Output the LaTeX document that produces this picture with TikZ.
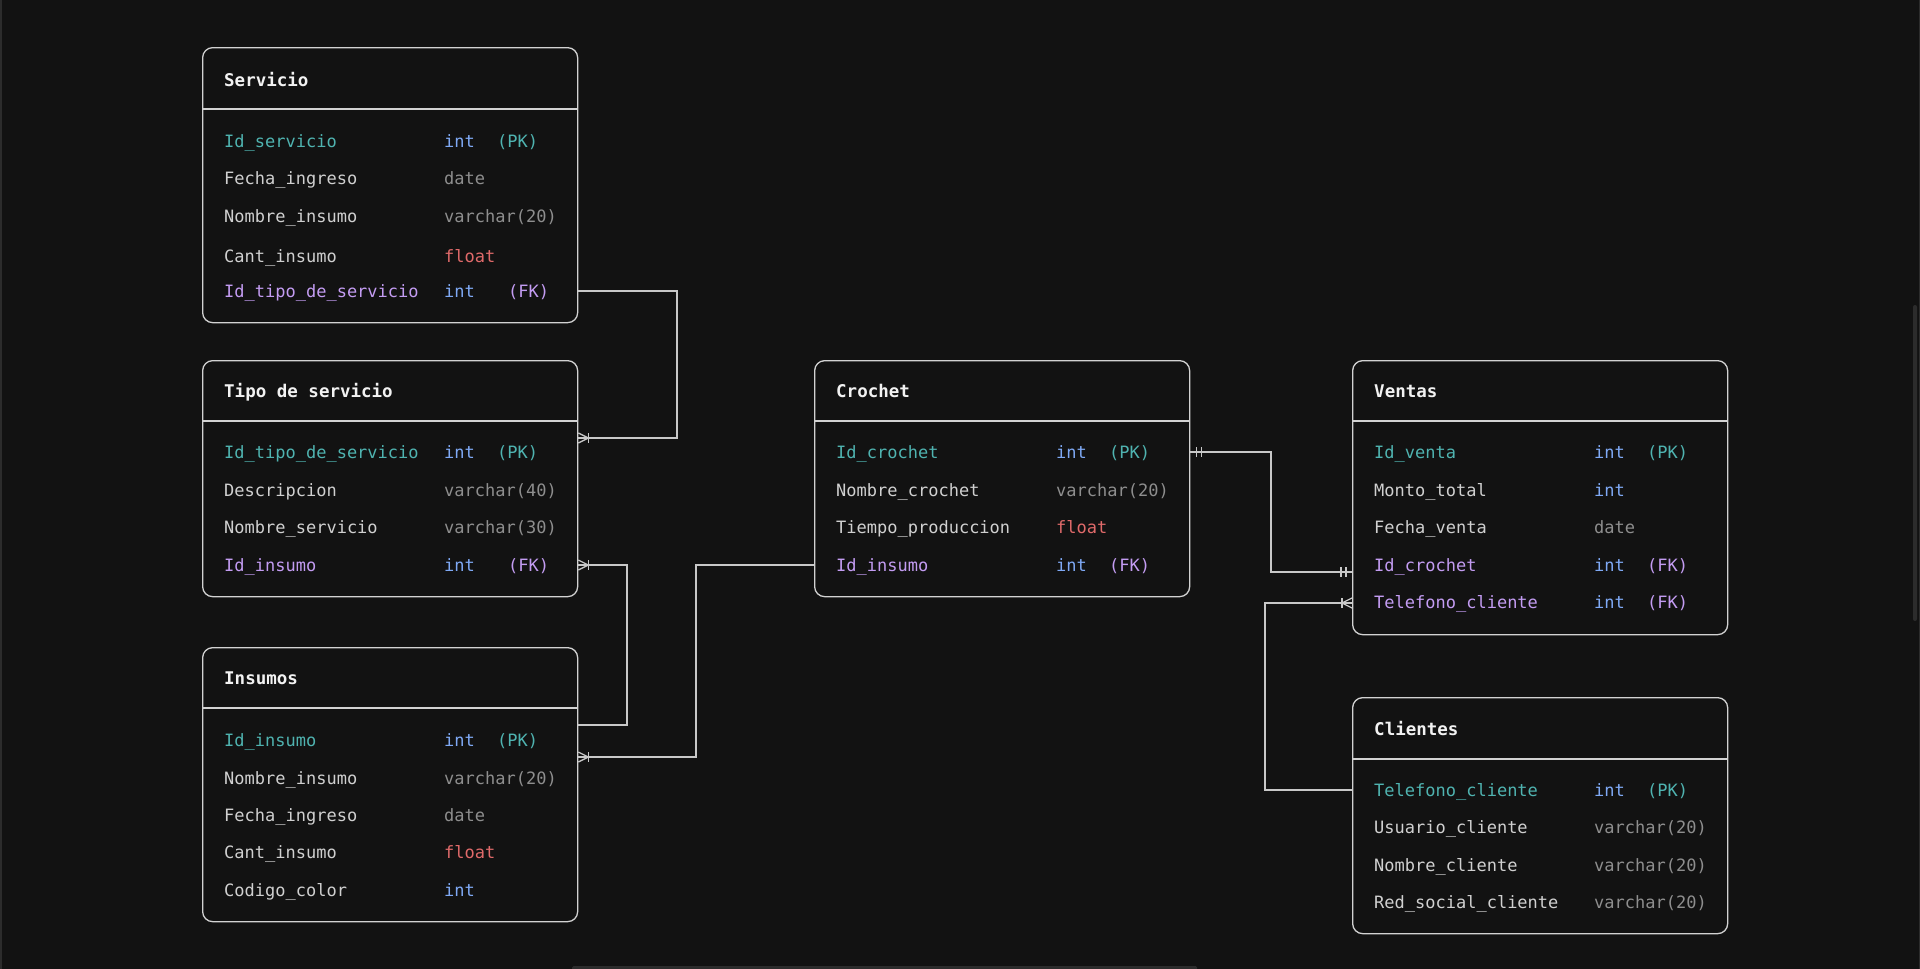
\documentclass[tikz,border=0pt]{standalone}
\usepackage{fontspec}
\setmonofont{DejaVu Sans Mono}
\definecolor{bg}{HTML}{121212}
\definecolor{edge}{HTML}{D2D2D2}
\definecolor{linec}{HTML}{C8C8C8}
\definecolor{titlec}{HTML}{F2F2F2}
\definecolor{txtc}{HTML}{D0D0D0}
\definecolor{pkc}{HTML}{4FB3B0}
\definecolor{fkc}{HTML}{C39CF2}
\definecolor{intc}{HTML}{7FA9F5}
\definecolor{grayc}{HTML}{8E8E8E}
\definecolor{floatc}{HTML}{E06A6A}
\definecolor{sbar}{HTML}{2C2C2C}
\begin{document}
\begin{tikzpicture}[x=1pt, y=-1pt,
  tbl/.style={draw=edge, line width=1.3pt, rounded corners=10pt, fill=bg,
    anchor=north west, inner sep=0, minimum width=375pt},
  sepline/.style={draw=edge, line width=1.3pt},
  ttl/.style={anchor=west, inner sep=0, text height=16pt, text depth=4pt,
    font=\ttfamily\bfseries\fontsize{17.5}{20}\selectfont, text=titlec},
  fld/.style={anchor=west, inner sep=0, text height=16pt, text depth=4pt,
    font=\ttfamily\fontsize{17}{20}\selectfont, text=txtc},
  pk/.style={fld, text=pkc}, fk/.style={fld, text=fkc},
  ity/.style={fld, text=intc}, gty/.style={fld, text=grayc}, fty/.style={fld, text=floatc},
  conn/.style={draw=linec, line width=1.3pt},
  many/.pic={\draw[conn] (0,-5) -- (10,0) -- (0,5); \draw[conn] (10,-5) -- (10,5);},
  one/.pic={\draw[conn] (6,-5) -- (6,5); \draw[conn] (11,-5) -- (11,5);}
]
% canvas
\useasboundingbox (0,0) rectangle (1920,969);
\fill[bg] (0,0) rectangle (1920,969);
\fill[sbar] (0,0) rectangle (1.5,969);
\fill[sbar] (1918.5,0) rectangle (1920,969);
\fill[sbar, rounded corners=2pt] (1913,305) rectangle (1917,621);
\fill[sbar, rounded corners=1.5pt] (572,966) rectangle (1197,972);

% ---------- Servicio ----------
\node[tbl, minimum height=275pt] (serv) at (202,47) {};
\draw[sepline] ([yshift=-62pt]serv.north west) -- ([yshift=-62pt]serv.north east);
\node[ttl] (servT) at (224,80) {Servicio};
\node[pk]  (sv1)  at (224,141) {Id\_servicio};
\node[ity] (sv1t) at (444,141) {int};
\node[pk]  (sv1k) at (497,141) {(PK)};
\node[fld] (sv2)  at (224,178) {Fecha\_ingreso};
\node[gty] (sv2t) at (444,178) {date};
\node[fld] (sv3)  at (224,216) {Nombre\_insumo};
\node[gty] (sv3t) at (444,216) {varchar(20)};
\node[fld] (sv4)  at (224,256) {Cant\_insumo};
\node[fty] (sv4t) at (444,256) {float};
\node[fk]  (sv5)  at (224,291) {Id\_tipo\_de\_servicio};
\node[ity] (sv5t) at (444,291) {int};
\node[fk]  (sv5k) at (508,291) {(FK)};

% ---------- Tipo de servicio ----------
\node[tbl, minimum height=236pt] (tipo) at (202,360) {};
\draw[sepline] ([yshift=-61pt]tipo.north west) -- ([yshift=-61pt]tipo.north east);
\node[ttl] (tipoT) at (224,391) {Tipo de servicio};
\node[pk]  (tp1)  at (224,452) {Id\_tipo\_de\_servicio};
\node[ity] (tp1t) at (444,452) {int};
\node[pk]  (tp1k) at (497,452) {(PK)};
\node[fld] (tp2)  at (224,490) {Descripcion};
\node[gty] (tp2t) at (444,490) {varchar(40)};
\node[fld] (tp3)  at (224,527) {Nombre\_servicio};
\node[gty] (tp3t) at (444,527) {varchar(30)};
\node[fk]  (tp4)  at (224,565) {Id\_insumo};
\node[ity] (tp4t) at (444,565) {int};
\node[fk]  (tp4k) at (508,565) {(FK)};

% ---------- Insumos ----------
\node[tbl, minimum height=274pt] (ins) at (202,647) {};
\draw[sepline] ([yshift=-61pt]ins.north west) -- ([yshift=-61pt]ins.north east);
\node[ttl] (insT) at (224,678) {Insumos};
\node[pk]  (in1)  at (224,740) {Id\_insumo};
\node[ity] (in1t) at (444,740) {int};
\node[pk]  (in1k) at (497,740) {(PK)};
\node[fld] (in2)  at (224,778) {Nombre\_insumo};
\node[gty] (in2t) at (444,778) {varchar(20)};
\node[fld] (in3)  at (224,815) {Fecha\_ingreso};
\node[gty] (in3t) at (444,815) {date};
\node[fld] (in4)  at (224,852) {Cant\_insumo};
\node[fty] (in4t) at (444,852) {float};
\node[fld] (in5)  at (224,890) {Codigo\_color};
\node[ity] (in5t) at (444,890) {int};

% ---------- Crochet ----------
\node[tbl, minimum height=236pt] (cro) at (814,360) {};
\draw[sepline] ([yshift=-61pt]cro.north west) -- ([yshift=-61pt]cro.north east);
\node[ttl] (croT) at (836,391) {Crochet};
\node[pk]  (cr1)  at (836,452) {Id\_crochet};
\node[ity] (cr1t) at (1056,452) {int};
\node[pk]  (cr1k) at (1109,452) {(PK)};
\node[fld] (cr2)  at (836,490) {Nombre\_crochet};
\node[gty] (cr2t) at (1056,490) {varchar(20)};
\node[fld] (cr3)  at (836,527) {Tiempo\_produccion};
\node[fty] (cr3t) at (1056,527) {float};
\node[fk]  (cr4)  at (836,565) {Id\_insumo};
\node[ity] (cr4t) at (1056,565) {int};
\node[fk]  (cr4k) at (1109,565) {(FK)};

% ---------- Ventas ----------
\node[tbl, minimum height=274pt] (ven) at (1352,360) {};
\draw[sepline] ([yshift=-61pt]ven.north west) -- ([yshift=-61pt]ven.north east);
\node[ttl] (venT) at (1374,391) {Ventas};
\node[pk]  (vn1)  at (1374,452) {Id\_venta};
\node[ity] (vn1t) at (1594,452) {int};
\node[pk]  (vn1k) at (1647,452) {(PK)};
\node[fld] (vn2)  at (1374,490) {Monto\_total};
\node[ity] (vn2t) at (1594,490) {int};
\node[fld] (vn3)  at (1374,527) {Fecha\_venta};
\node[gty] (vn3t) at (1594,527) {date};
\node[fk]  (vn4)  at (1374,565) {Id\_crochet};
\node[ity] (vn4t) at (1594,565) {int};
\node[fk]  (vn4k) at (1647,565) {(FK)};
\node[fk]  (vn5)  at (1374,602) {Telefono\_cliente};
\node[ity] (vn5t) at (1594,602) {int};
\node[fk]  (vn5k) at (1647,602) {(FK)};

% ---------- Clientes ----------
\node[tbl, minimum height=236pt] (cli) at (1352,697) {};
\draw[sepline] ([yshift=-62pt]cli.north west) -- ([yshift=-62pt]cli.north east);
\node[ttl] (cliT) at (1374,729) {Clientes};
\node[pk]  (cl1)  at (1374,790) {Telefono\_cliente};
\node[ity] (cl1t) at (1594,790) {int};
\node[pk]  (cl1k) at (1647,790) {(PK)};
\node[fld] (cl2)  at (1374,827) {Usuario\_cliente};
\node[gty] (cl2t) at (1594,827) {varchar(20)};
\node[fld] (cl3)  at (1374,865) {Nombre\_cliente};
\node[gty] (cl3t) at (1594,865) {varchar(20)};
\node[fld] (cl4)  at (1374,902) {Red\_social\_cliente};
\node[gty] (cl4t) at (1594,902) {varchar(20)};

% ---------- relationships ----------
\coordinate (b1) at (677,438);
\coordinate (b2) at (627,725);
\coordinate (b3) at (696,757);
\coordinate (b4) at (1271,572);
\coordinate (b5) at (1265,603);

% Servicio -> Tipo de servicio
\draw[conn] (serv.east |- sv5) -| (b1) -- (b1 -| tipo.east);
\pic at (b1 -| tipo.east) {many};
% Tipo de servicio -> Insumos
\draw[conn] (tipo.east |- tp4) -| (b2) -- (b2 -| ins.east);
\pic at (tipo.east |- tp4) {many};
% Crochet -> Insumos
\draw[conn] (cro.west |- cr4) -| (b3) -- (b3 -| ins.east);
\pic at (b3 -| ins.east) {many};
% Crochet -> Ventas
\draw[conn] (cro.east |- cr1) -| (b4) -- (b4 -| ven.west);
\pic at (cro.east |- cr1) {one};
\pic[xscale=-1] at (b4 -| ven.west) {one};
% Clientes -> Ventas
\draw[conn] (cli.west |- cl1) -| (b5) -- (b5 -| ven.west);
\pic[xscale=-1] at (b5 -| ven.west) {many};
\end{tikzpicture}
\end{document}
